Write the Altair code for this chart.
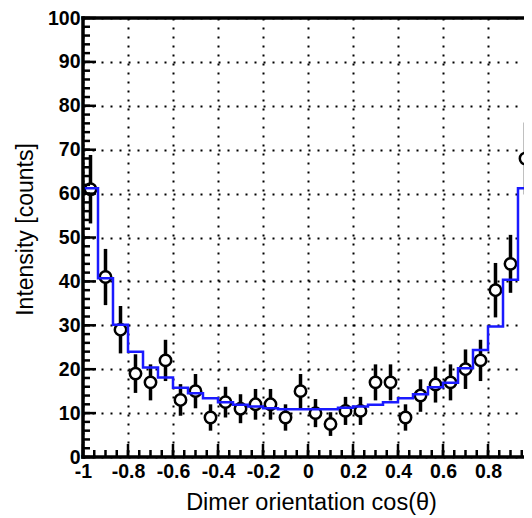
import altair as alt
import pandas as pd

# bin centres of the 30 cos(theta) bins
centers = [-0.9667, -0.9, -0.8333, -0.7667, -0.7, -0.6333, -0.5667, -0.5, -0.4333, -0.3667,
           -0.3, -0.2333, -0.1667, -0.1, -0.0333, 0.0333, 0.1, 0.1667, 0.2333, 0.3,
           0.3667, 0.4333, 0.5, 0.5667, 0.6333, 0.7, 0.7667, 0.8333, 0.9, 0.9667]
counts = [61, 41, 29, 19, 17, 22, 13, 15, 9, 12.5,
          11, 12, 12, 9, 15, 10, 7.5, 10.5, 10.5, 17,
          17, 9, 14, 16.5, 17, 20, 22, 38, 44, 68]
errors = [7.8, 6.4, 5.4, 4.4, 4.1, 4.7, 3.6, 3.9, 3.0, 3.5,
          3.3, 3.5, 3.5, 3.0, 3.9, 3.2, 2.7, 3.2, 3.2, 4.1,
          4.1, 3.0, 3.7, 4.1, 4.1, 4.5, 4.7, 6.2, 6.6, 8.2]

# bin edges and model histogram (blue step line)
edges = [-1.0, -0.9333, -0.8667, -0.8, -0.7333, -0.6667, -0.6, -0.5333, -0.4667, -0.4,
         -0.3333, -0.2667, -0.2, -0.1333, -0.0667, 0.0, 0.0667, 0.1333, 0.2, 0.2667,
         0.3333, 0.4, 0.4667, 0.5333, 0.6, 0.6667, 0.7333, 0.8, 0.8667, 0.9333, 1.0]
model = [61.2, 40.7, 30.1, 24.0, 20.4, 18.1, 15.8, 14.5, 13.4, 12.5,
         11.9, 11.5, 11.1, 10.9, 10.9, 10.9, 10.9, 11.2, 11.5, 11.9,
         12.5, 13.4, 14.3, 15.9, 16.9, 20.2, 24.4, 29.7, 40.4, 61.2]

x_major = [-1, -0.8, -0.6, -0.4, -0.2, 0, 0.2, 0.4, 0.6, 0.8, 1]
x_minor = [round(-1 + 0.05 * i, 2) for i in range(41)]
y_major = [0, 10, 20, 30, 40, 50, 60, 70, 80, 90, 100]
y_minor = list(range(0, 101, 2))

pts = pd.DataFrame({"x": centers, "y": counts,
                    "lo": [c - e for c, e in zip(counts, errors)],
                    "hi": [c + e for c, e in zip(counts, errors)]})
step = pd.DataFrame({"x": edges, "y": model + [model[-1]]})

W, H = 441, 439      # visible view (page is 532 wide, plot runs past the right edge)
XR = 450             # full pixel span of x = -1..1
FONT = "Liberation Sans"

xs = alt.Scale(domain=[-1, 1], range=[0, XR], nice=False, zero=False)
ys = alt.Scale(domain=[0, 100], nice=False, zero=False)

x_axis = alt.Axis(values=x_major, labelExpr="toString(datum.value)",
                  ticks=False, tickSize=0, domain=False,
                  grid=True, gridColor="black", gridDash=[2, 7], gridWidth=2, gridOpacity=1,
                  labelFont=FONT, labelFontSize=19.5, labelFontWeight="bold", labelColor="black",
                  labelPadding=5, labelBaseline="top", labelFlush=False, labelOverlap=False,
                  title="Dimer orientation cos(θ)", titleFont=FONT, titleFontSize=23.5,
                  titleFontWeight="normal", titleColor="black",
                  titleX=228, titleY=45, titleAlign="center", titleBaseline="middle")
y_axis = alt.Axis(values=y_major, ticks=False, tickSize=0, domain=False,
                  grid=True, gridColor="black", gridDash=[2, 7], gridWidth=2, gridOpacity=1,
                  labelFont=FONT, labelFontSize=19.5, labelFontWeight="bold", labelColor="black",
                  labelPadding=3, labelFlush=False, labelOverlap=False,
                  title="Intensity [counts]", titleFont=FONT, titleFontSize=23,
                  titleFontWeight="normal", titleColor="black", titleAngle=-90,
                  titleX=-58, titleY=211, titleAlign="center", titleBaseline="middle")

base_pts = alt.Chart(pts)

errbars = base_pts.mark_rule(color="black", strokeWidth=3.5).encode(
    x=alt.X("x:Q", scale=xs, axis=x_axis),
    y=alt.Y("lo:Q", scale=ys, axis=y_axis),
    y2="hi:Q",
)
circles = base_pts.mark_point(shape="circle", filled=True, fill="white", stroke="black",
                              strokeWidth=2.5, size=130, opacity=1).encode(
    x=alt.X("x:Q", scale=xs), y=alt.Y("y:Q", scale=ys))

line = alt.Chart(step).mark_line(interpolate="step-after", color="#1a1aff", strokeWidth=2.5).encode(
    x=alt.X("x:Q", scale=xs), y=alt.Y("y:Q", scale=ys))

ymin_t = alt.Chart(pd.DataFrame({"v": y_minor})).mark_rule(color="black", strokeWidth=2.5).encode(
    y=alt.Y("v:Q", scale=ys), x=alt.value(0), x2=alt.value(7))
ymaj_t = alt.Chart(pd.DataFrame({"v": y_major})).mark_rule(color="black", strokeWidth=2.5).encode(
    y=alt.Y("v:Q", scale=ys), x=alt.value(0), x2=alt.value(13))
xmin_t = alt.Chart(pd.DataFrame({"v": x_minor})).mark_rule(color="black", strokeWidth=2.5).encode(
    x=alt.X("v:Q", scale=xs), y=alt.value(H), y2=alt.value(H - 7))
xmaj_t = alt.Chart(pd.DataFrame({"v": x_major})).mark_rule(color="black", strokeWidth=2.5).encode(
    x=alt.X("v:Q", scale=xs), y=alt.value(H), y2=alt.value(H - 13))

# frame (top, bottom, left, right)
frame_df = pd.DataFrame({"side": ["frame"]})
top = alt.Chart(frame_df).mark_rule(color="black", strokeWidth=3.5, strokeCap="square").encode(
    x=alt.value(0), x2=alt.value(XR), y=alt.value(0))
bottom = alt.Chart(frame_df).mark_rule(color="black", strokeWidth=3.5, strokeCap="square").encode(
    x=alt.value(0), x2=alt.value(XR), y=alt.value(H))
left = alt.Chart(frame_df).mark_rule(color="black", strokeWidth=3.5, strokeCap="square").encode(
    x=alt.value(0), y=alt.value(0), y2=alt.value(H))
right = alt.Chart(frame_df).mark_rule(color="black", strokeWidth=3.5, strokeCap="square").encode(
    x=alt.value(XR), y=alt.value(0), y2=alt.value(H))

chart = alt.layer(errbars, circles, line, ymin_t, ymaj_t, xmin_t, xmaj_t,
                  top, bottom, left, right).properties(
    width=W, height=H,
    autosize=alt.AutoSizeParams(type="none"),
    padding={"left": 75, "top": 10, "right": 0, "bottom": 58},
    background="white",
).configure_view(strokeWidth=0)

chart.save("out.html", embed_options={"renderer": "svg", "actions": False})
